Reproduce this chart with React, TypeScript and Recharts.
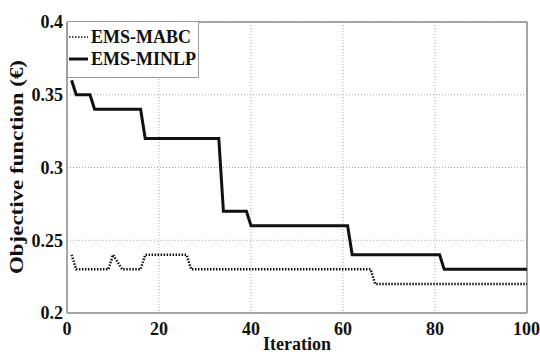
import {
  LineChart,
  Line,
  XAxis,
  YAxis,
  CartesianGrid,
  ReferenceLine,
} from "recharts";

// Convergence of the two energy-management solvers (breakpoints of each curve)
const mabcIter = [1, 2, 9, 10, 12, 16, 17, 26, 27, 66, 67, 100];
const mabcCost = [0.24, 0.23, 0.23, 0.24, 0.23, 0.23, 0.24, 0.24, 0.23, 0.23, 0.22, 0.22];

const minlpIter = [1, 2, 5, 6, 16, 17, 33, 34, 39, 40, 61, 62, 81, 82, 100];
const minlpCost = [0.36, 0.35, 0.35, 0.34, 0.34, 0.32, 0.32, 0.27, 0.27, 0.26, 0.26, 0.24, 0.24, 0.23, 0.23];

const seriesNames = ["EMS-MABC", "EMS-MINLP"];

const xTicks = [0, 20, 40, 60, 80, 100];
const yTicks = [0.2, 0.25, 0.3, 0.35, 0.4];

const mabcData = mabcIter.map((iter, i) => ({ iter, cost: mabcCost[i] }));
const minlpData = minlpIter.map((iter, i) => ({ iter, cost: minlpCost[i] }));

const FONT = "Liberation Serif, Times New Roman, DejaVu Serif, serif";
const AXIS = "#8c8c8c";

const tickStyle = { fill: "#111", fontSize: 18, fontWeight: 700, fontFamily: FONT };

// legend box sitting in the top-left corner of the plot
function LegendBox() {
  return (
    <div
      style={{
        position: "absolute",
        left: 67,
        top: 21,
        width: 132,
        height: 57,
        border: "1px solid #9a9a9a",
        background: "#fff",
        boxSizing: "border-box",
        fontFamily: FONT,
        fontWeight: 700,
        fontSize: 18,
        color: "#111",
        paddingTop: 4,
      }}
    >
      {seriesNames.map((name, i) => (
        <div key={name} style={{ display: "flex", alignItems: "center", height: 22 }}>
          <svg width={22} height={10}>
            <line
              x1={1}
              x2={20}
              y1={5}
              y2={5}
              stroke="#111"
              strokeWidth={i === 0 ? 1.5 : 3}
              strokeDasharray={i === 0 ? "1.5 1.5" : undefined}
            />
          </svg>
          <span style={{ marginLeft: 1, lineHeight: "22px" }}>{name}</span>
        </div>
      ))}
    </div>
  );
}

export default function App() {
  return (
    <div style={{ position: "absolute", left: 0, top: 0, width: 540, height: 355, background: "#fff" }}>
      <LineChart width={540} height={355} margin={{ top: 22, right: 13, bottom: 0, left: 0 }}>
        <CartesianGrid stroke="#a8a8a8" strokeDasharray="1 2" />
        <XAxis
          dataKey="iter"
          type="number"
          domain={[0, 100]}
          ticks={xTicks}
          allowDuplicatedCategory={false}
          height={42}
          stroke={AXIS}
          strokeWidth={1.5}
          tickLine={false}
          tickSize={0}
          tickMargin={9}
          tick={tickStyle}
          label={{
            content: () => (
              <text x={297} y={350} textAnchor="middle" style={tickStyle}>
                Iteration
              </text>
            ),
          }}
        />
        <YAxis
          type="number"
          domain={[0.2, 0.4]}
          ticks={yTicks}
          width={67}
          stroke={AXIS}
          strokeWidth={1.5}
          tickLine={false}
          tickSize={0}
          tickMargin={4}
          tick={tickStyle}
          tickFormatter={(v: number) => String(v)}
          label={{
            content: () => (
              <text
                x={0}
                y={0}
                transform="translate(23 167) rotate(-90)"
                textAnchor="middle"
                textLength={214}
                lengthAdjust="spacingAndGlyphs"
                style={tickStyle}
              >
                Objective function (€)
              </text>
            ),
          }}
        />
        <ReferenceLine y={0.4} stroke={AXIS} strokeWidth={1.5} />
        <ReferenceLine x={100} stroke={AXIS} strokeWidth={1.5} />
        <Line
          data={mabcData}
          dataKey="cost"
          name={seriesNames[0]}
          type="linear"
          stroke="#111"
          strokeWidth={2.5}
          strokeDasharray="1.5 1.5"
          dot={false}
          isAnimationActive={false}
        />
        <Line
          data={minlpData}
          dataKey="cost"
          name={seriesNames[1]}
          type="linear"
          stroke="#111"
          strokeWidth={3}
          dot={false}
          isAnimationActive={false}
        />
      </LineChart>
      <LegendBox />
    </div>
  );
}
